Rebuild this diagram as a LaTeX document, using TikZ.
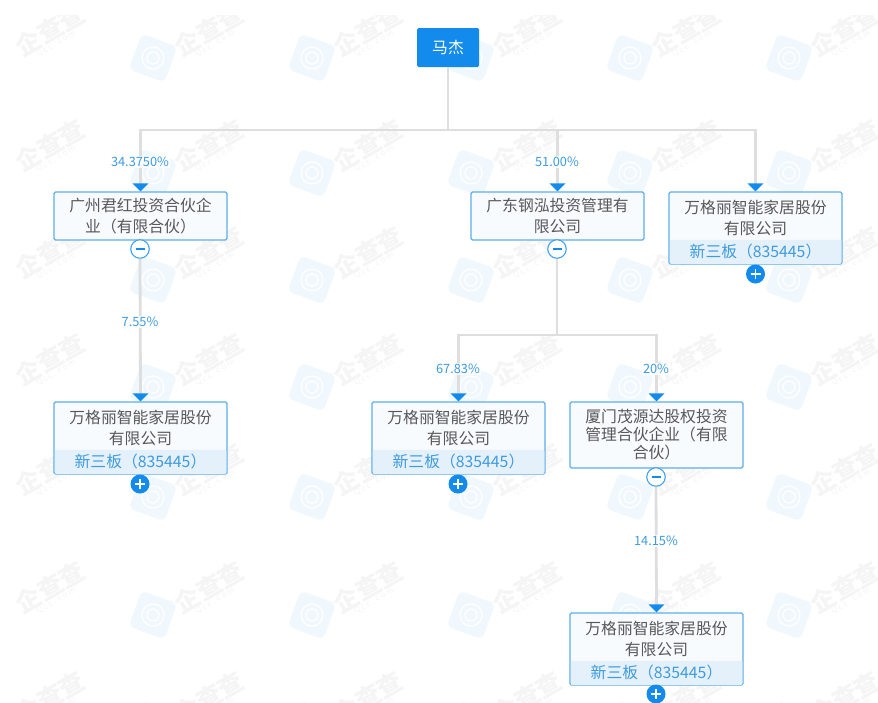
\documentclass[tikz,border=0pt]{standalone}
\usepackage{fontspec}
\setmainfont{Noto Sans CJK SC}
\usetikzlibrary{calc}
\definecolor{bl}{HTML}{128BED}
\definecolor{bdr}{HTML}{5DAEEB}
\definecolor{lnk}{HTML}{DEDEDE}
\definecolor{txt}{HTML}{585858}
\definecolor{pct}{HTML}{3F9BE0}
\definecolor{bandc}{HTML}{E5F1FA}
\definecolor{boxf}{HTML}{F8FBFE}
\definecolor{wmt}{HTML}{F5F5F5}
\definecolor{wmi}{HTML}{F0F8FE}
\tikzset{
  x=1pt,y=-1pt,
  box/.style={draw=bdr,line width=1.1pt,rounded corners=1.5pt,fill=boxf,minimum width=173pt,text width=168pt,align=center,text=txt,font=\fontsize{15.8}{21}\selectfont,inner sep=0pt},
  bandnode/.style={fill=bandc,minimum width=171.5pt,minimum height=24pt,inner sep=0pt,text=pct,font=\fontsize{15.8}{18}\selectfont,rounded corners=1pt},
  link/.style={draw=lnk,line width=2.8pt},
  pctl/.style={text=pct,font=\fontsize{12.8}{14}\selectfont,inner sep=1.5pt,fill=white,fill opacity=.85,text opacity=1},
  tip/.style={fill=bl,draw=none},
  minusc/.style={circle,draw=bl!80!white,line width=1.1pt,fill=white,minimum size=18.5pt,inner sep=0pt},
  plusc/.style={circle,fill=bl,draw=none,minimum size=19pt,inner sep=0pt},
  wmtext/.style={text=wmt,rotate=30,font=\fontsize{25}{25}\selectfont\bfseries,inner sep=0pt},
  wmsmall/.style={text=wmt,rotate=30,font=\fontsize{8}{8}\selectfont,inner sep=0pt},
}
\newcommand{\tipat}[1]{\fill[tip] ($(#1.north)+(-8,-8)$) -- ($(#1.north)+(8,-8)$) -- (#1.north) -- cycle;}
\newcommand{\signm}[1]{\draw[bl,line width=1.2pt] ($(#1)+(-4.5,0)$) -- ($(#1)+(4.5,0)$);}
\newcommand{\signp}[1]{\draw[white,line width=1.6pt] ($(#1)+(-5,0)$) -- ($(#1)+(5,0)$) ($(#1)+(0,-5)$) -- ($(#1)+(0,5)$);}
\begin{document}
\begin{tikzpicture}
\useasboundingbox (0,0) rectangle (878,702);
\fill[white] (0,0) rectangle (878,702);
% watermark
\begin{scope}
\clip (13,15) rectangle (878,702);
\foreach \yy in {0,115,222,329,439,557,667}{
  \foreach \xx in {0,159,318,477,636,795}{
    \begin{scope}[shift={(\xx,\yy)}]
      \node[wmtext] at (50,30) {企查查};
      \node[wmsmall] at (56,44) {Q c c . c o m};
      \fill[wmi,rounded corners=6pt,rotate around={-20:(153,58)}] (134,39) rectangle (172,77);
      \draw[white,line width=1.2pt] (153,58) circle (11);
      \draw[white,line width=1.2pt] (153,58) circle (6);
    \end{scope}
  }
}
\end{scope}
% nodes
\node[draw=none,fill=bl,rounded corners=1.5pt,minimum width=62pt,minimum height=39pt,text=white,font=\fontsize{15.8}{18}\selectfont,inner sep=0pt] (root) at (448,47.5) {马杰};
\node[box,minimum height=48pt] (a) at (140.5,216) {广州君红投资合伙企\\业（有限合伙）};
\node[box,minimum height=48pt] (b) at (557.5,216) {广东钢泓投资管理有\\限公司};
\node[box,minimum height=72pt] (c) at (755.5,228) {万格丽智能家居股份\\有限公司\\~};
\node[box,minimum height=72pt] (d) at (140.5,438) {万格丽智能家居股份\\有限公司\\~};
\node[box,minimum height=72pt] (e) at (458.5,438) {万格丽智能家居股份\\有限公司\\~};
\node[box,minimum height=66pt,font=\fontsize{15.8}{18}\selectfont] (f) at (656.5,435) {厦门茂源达股权投资\\管理合伙企业（有限\\合伙）};
\node[box,minimum height=72pt] (g) at (656.5,649) {万格丽智能家居股份\\有限公司\\~};
\foreach \n in {c,d,e,g}{
  \node[bandnode,anchor=south] (band\n) at ($(\n.south)+(0,-.6)$) {新三板（835445）};
}
% toggles
\node[minusc] (ma) at (140,249) {};
\node[minusc] (mb) at (557,249) {};
\node[minusc] (mf) at (656,477) {};
\node[plusc] (pc) at (755.5,274) {};
\node[plusc] (pd) at (140,484) {};
\node[plusc] (pe) at (458,484) {};
\node[plusc] (pg) at (656,694) {};
\signm{ma}\signm{mb}\signm{mf}
\signp{pc}\signp{pd}\signp{pe}\signp{pg}
% junctions
\coordinate (j0) at (root.south |- 0,130);
\coordinate (ja) at (a.north |- 0,130);
\coordinate (jb) at (b.north |- 0,130);
\coordinate (jc) at (c.north |- 0,130);
\coordinate (je) at (e.north |- 0,335);
\coordinate (jf) at (f.north |- 0,335);
\coordinate (jm) at (mb.south |- 0,335);
% connectors
\draw[link] (root.south) -- (j0);
\draw[link,line cap=rect] (ja) -- (jc);
\draw[link] (ja) -- ($(a.north)+(0,-7)$);
\draw[link] (jb) -- ($(b.north)+(0,-7)$);
\draw[link] (jc) -- ($(c.north)+(0,-7)$);
\draw[link] (ma.south) -- ($(d.north)+(0,-7)$);
\draw[link] (mb.south) -- (jm);
\draw[link,line cap=rect] (je) -- (jf);
\draw[link] (je) -- ($(e.north)+(0,-7)$);
\draw[link] (jf) -- ($(f.north)+(0,-7)$);
\draw[link] (mf.south) -- ($(g.north)+(0,-7)$);
\tipat{a}\tipat{b}\tipat{c}\tipat{d}\tipat{e}\tipat{f}\tipat{g}
% labels
\node[pctl] (l1) at (140,162) {34.3750\%};
\node[pctl] (l2) at (557,162) {51.00\%};
\node[pctl] (l3) at (140,322) {7.55\%};
\node[pctl] (l4) at (458,369) {67.83\%};
\node[pctl] (l5) at (656,369) {20\%};
\node[pctl] (l6) at (656,541) {14.15\%};
\end{tikzpicture}
\end{document}
